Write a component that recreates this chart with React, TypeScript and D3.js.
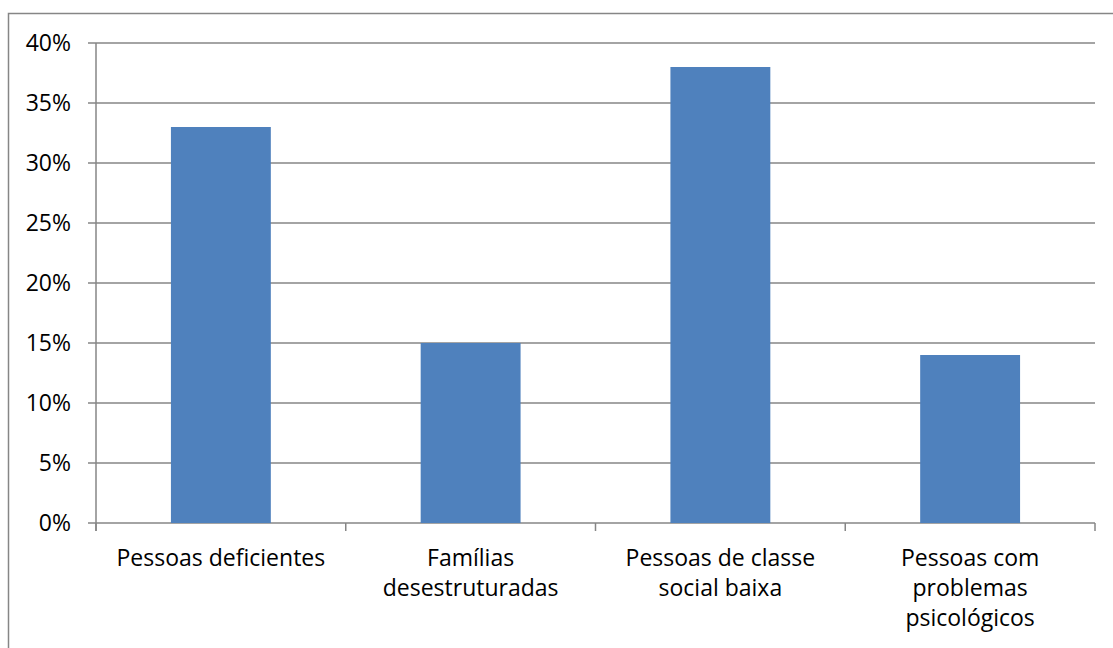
import React from "react";
import * as d3 from "d3";

const categories = [
  ["Pessoas deficientes"],
  ["Famílias", "desestruturadas"],
  ["Pessoas de classe", "social baixa"],
  ["Pessoas com", "problemas", "psicológicos"],
];
const values = [0.33, 0.15, 0.38, 0.14];
const yTicks = [0, 0.05, 0.1, 0.15, 0.2, 0.25, 0.3, 0.35, 0.4];

const W = 1113;
const H = 648;
const plot = { left: 96, right: 1095, top: 43, bottom: 523 };
const FONT = "'Open Sans', sans-serif";
const FONT_SIZE = 23;
const GRID = "#868686";
const BAR = "#4F81BD";

export default function App() {
  const x = d3
    .scaleBand<number>()
    .domain(d3.range(categories.length))
    .range([plot.left, plot.right])
    .paddingInner(0.6)
    .paddingOuter(0.3);
  const band = (plot.right - plot.left) / categories.length;
  const y = d3.scaleLinear().domain([0, 0.4]).range([plot.bottom, plot.top]);
  const fmt = d3.format(".0%");

  return (
    <svg
      width={W}
      height={H}
      style={{ position: "absolute", left: 0, top: 0, background: "#fff" }}
    >
      <rect x={8.5} y={13.5} width={W + 20} height={H + 20} fill="none" stroke={GRID} strokeWidth={1.5} />
      {yTicks.map((t) => (
        <g key={t}>
          <line x1={88} x2={plot.right} y1={y(t)} y2={y(t)} stroke={GRID} strokeWidth={1.5} />
          <text
            x={71}
            y={y(t)}
            dy="0.36em"
            textAnchor="end"
            fontFamily={FONT}
            fontSize={FONT_SIZE}
            fill="#000"
          >
            {fmt(t)}
          </text>
        </g>
      ))}
      <line x1={plot.left} x2={plot.left} y1={plot.top} y2={plot.bottom + 8} stroke={GRID} strokeWidth={1.5} />
      {d3.range(categories.length + 1).map((i) => (
        <line
          key={i}
          x1={plot.left + i * band}
          x2={plot.left + i * band}
          y1={plot.bottom}
          y2={plot.bottom + 8}
          stroke={GRID}
          strokeWidth={1.5}
        />
      ))}
      {values.map((v, i) => (
        <rect
          key={i}
          x={x(i)}
          y={y(v)}
          width={x.bandwidth()}
          height={plot.bottom - y(v)}
          fill={BAR}
        />
      ))}
      {categories.map((lines, i) => (
        <text
          key={i}
          x={plot.left + (i + 0.5) * band}
          y={566}
          textAnchor="middle"
          fontFamily={FONT}
          fontSize={FONT_SIZE}
          fill="#000"
        >
          {lines.map((l, j) => (
            <tspan key={j} x={plot.left + (i + 0.5) * band} dy={j === 0 ? 0 : 30}>
              {l}
            </tspan>
          ))}
        </text>
      ))}
    </svg>
  );
}
